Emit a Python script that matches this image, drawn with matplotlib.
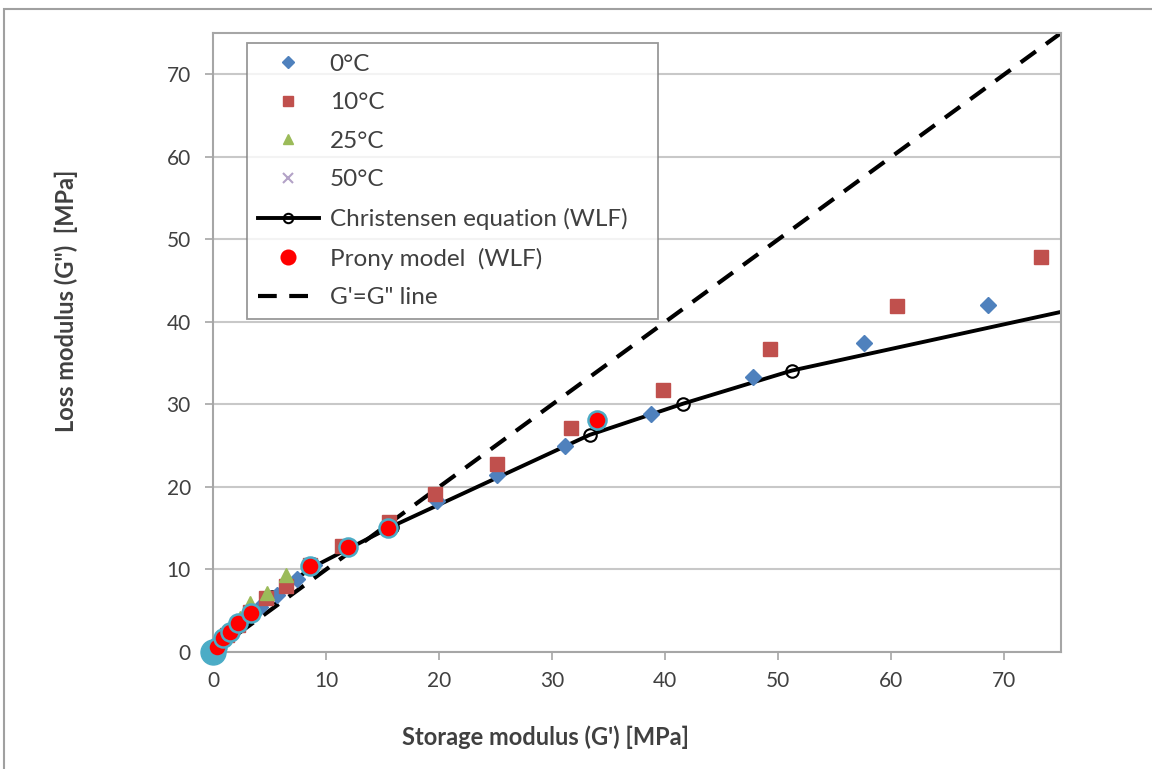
import matplotlib
matplotlib.use("Agg")
import matplotlib.pyplot as plt
from matplotlib.patches import Rectangle

plt.rcParams['font.family'] = ['Lato', 'DejaVu Sans']

# measured data, G' / G'' in MPa
g1_0 = [0.1, 0.5, 1.1, 1.8, 2.6, 4.2, 5.7, 7.4, 8.9, 12.0, 15.6, 19.8, 25.1, 31.1, 38.7, 47.8, 57.6, 68.5]
g2_0 = [0.3, 1.0, 1.9, 2.8, 3.9, 5.5, 6.9, 8.9, 10.6, 12.9, 15.4, 18.3, 21.4, 24.9, 28.8, 33.3, 37.5, 42.1]

g1_10 = [0.3, 1.2, 2.2, 3.3, 4.7, 6.5, 8.6, 11.4, 15.6, 19.6, 25.1, 31.7, 39.8, 49.3, 60.5, 73.2]
g2_10 = [0.8, 2.0, 3.3, 4.8, 6.5, 8.0, 10.6, 12.8, 15.7, 19.1, 22.8, 27.1, 31.7, 36.7, 41.9, 47.9]

g1_25 = [0.1, 0.4, 0.9, 1.6, 2.4, 3.3, 4.8, 6.5]
g2_25 = [0.3, 0.9, 1.8, 2.8, 4.1, 5.9, 7.1, 9.3]

g1_50 = [0.0, 0.05, 0.1, 0.2, 0.4]
g2_50 = [0.1, 0.2, 0.4, 0.7, 1.0]

# Christensen equation (WLF)
g1_chr = [0.0, 0.4, 1.0, 1.6, 2.3, 3.4, 5.2, 8.7, 12.1, 15.8, 33.3, 41.6, 51.2, 80.0]
g2_chr = [0.0, 0.8, 1.8, 2.6, 3.6, 4.9, 6.7, 10.2, 12.6, 15.2, 26.3, 30.1, 34.1, 42.7]

# Prony model (WLF)
g1_pr = [0.35, 0.9, 1.5, 2.2, 3.4, 8.6, 11.9, 15.5, 34.0]
g2_pr = [0.6, 1.7, 2.4, 3.5, 4.7, 10.4, 12.7, 15.0, 28.1]
g1_pr0 = [0.0]
g2_pr0 = [0.0]

# G'=G'' line
g_eq = [0, 75]

xticks = [0, 10, 20, 30, 40, 50, 60, 70]

fig = plt.figure(figsize=(11.52, 7.69), dpi=100)
ax = fig.add_axes([213/1152, 1-652/769, (1061-213)/1152, (652-33)/769])

grey = '#A6A6A6'
ax.set_xlim(0, 75)
ax.set_ylim(0, 75)
ax.set_xticks(xticks)
ax.set_yticks(xticks)
ax.yaxis.grid(True, color='#C8C8C8', lw=1.5)
ax.set_axisbelow(True)
for s in ax.spines.values():
    s.set_color(grey)
    s.set_linewidth(1.5)
ax.tick_params(colors=grey, labelcolor='#404040', labelsize=15, length=6, width=1.2)
ax.tick_params(axis='x', pad=8)
ax.tick_params(axis='y', pad=10)

ax.plot(g1_0, g2_0, 'D', color='#4F81BD', ms=8, mec='#4F81BD', label='0°C', zorder=3)
ax.plot(g1_10, g2_10, 's', color='#C0504D', ms=10, label='10°C', zorder=3)
ax.plot(g1_25, g2_25, '^', color='#9BBB59', ms=10, label='25°C', zorder=3)
ax.plot(g1_50, g2_50, 'x', color='#B3A2C7', ms=9, mew=1.5, label='50°C', zorder=3)
ax.plot(g1_chr, g2_chr, '-o', color='black', lw=2.8, ms=9, mfc='none', mec='black', mew=1.5,
        label='Christensen equation (WLF)', zorder=2.5)
ax.plot(g1_pr0, g2_pr0, 'o', color='#4BACC6', ms=18, zorder=4, clip_on=False)
ax.plot(g1_pr, g2_pr, 'o', color='red', ms=13, mec='#4BACC6', mew=1.8,
        label='Prony model  (WLF)', zorder=4, clip_on=False)
ax.plot(g_eq, g_eq, '--', color='black', lw=3, dashes=(4.5, 3), label='G\'=G" line', zorder=2)

leg = ax.legend(loc='upper left', bbox_to_anchor=(247/1152, 1-316/769, 411/1152, 273/769),
                bbox_transform=fig.transFigure, mode='expand',
                fontsize=17.5, frameon=True, fancybox=False, borderaxespad=0, borderpad=0.45,
                handlelength=2.5, labelspacing=0.72, handletextpad=0.45, markerscale=0.75)
leg.get_frame().set_edgecolor('#7F7F7F')
leg.get_frame().set_linewidth(1.3)
for t in leg.get_texts():
    t.set_color('#404040')
leg.legend_handles[5].set_markeredgecolor('red')

fig.text(546/1152, 1-737/769, "Storage modulus (G') [MPa]", fontsize=17, fontweight='bold',
         color='#404040', ha='center', va='center')
fig.text(66/1152, 1-301/769, 'Loss modulus (G")  [MPa]', fontsize=17, fontweight='bold',
         color='#404040', ha='center', va='center', rotation=90)

fig.patches.append(Rectangle((4/1152, -0.1), 1.2, 1.1 - 9/769, transform=fig.transFigure,
                             fill=False, edgecolor='#A0A0A0', lw=1.5))

fig.savefig('out.png', dpi=100)
